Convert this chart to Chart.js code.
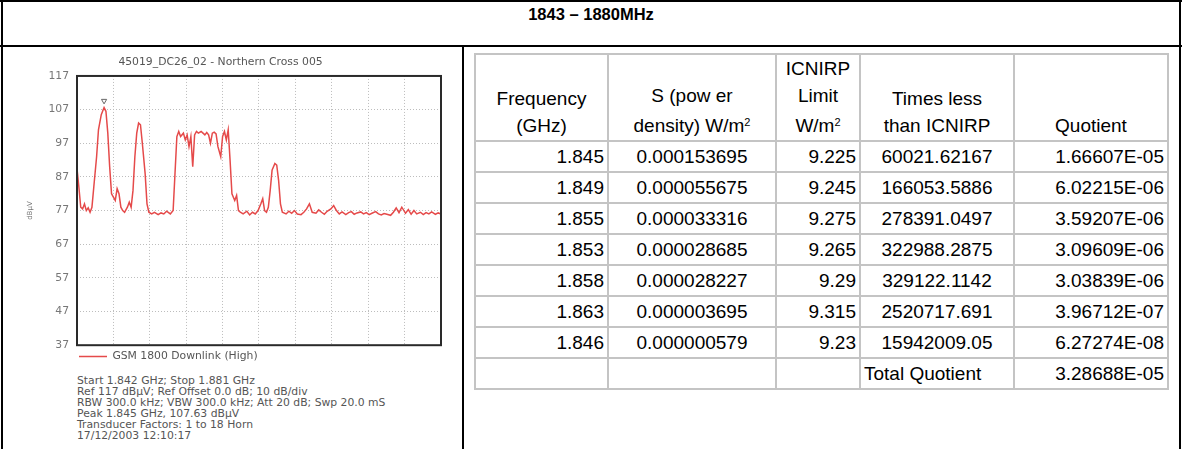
<!DOCTYPE html>
<html>
<head>
<meta charset="utf-8">
<script src="https://cdn.jsdelivr.net/npm/chart.js@4.4.1/dist/chart.umd.min.js"></script>
<style>
  body { margin: 0; width: 1182px; height: 449px; background: #fff; position: relative; overflow: hidden;
         font-family: "Liberation Sans", Arial, sans-serif; }
  .line { position: absolute; background: #000; z-index: 5; }
  .heading { position: absolute; left: 0; top: 5px; width: 1182px; text-align: center;
             font-weight: bold; font-size: 16.5px; }
  .plot { position: absolute; left: 0; top: 48px; width: 462px; height: 324px; }
  .info { position: absolute; left: 77px; top: 375px; font-family: "DejaVu Sans", sans-serif;
          font-size: 10.8px; line-height: 11px; color: #555; white-space: pre; }
  table { position: absolute; left: 474px; top: 53px; border-collapse: collapse; table-layout: fixed;
          font-size: 19px; color: #000; }
  td { border: 2px solid #c4c4c4; padding: 0 3px; height: 29px; white-space: nowrap; }
  thead td { height: 81px; vertical-align: bottom; text-align: center; line-height: 27px; padding-bottom: 1px; }
  .r { text-align: right; }
  .c { text-align: center; }
  .l { text-align: left; }
  sup { font-size: 11px; vertical-align: 6px; }
</style>
</head>
<body>
<div class="line" style="left:0;top:0;width:1182px;height:2px"></div>
<div class="line" style="left:0;top:45px;width:1182px;height:2px"></div>
<div class="line" style="left:1px;top:0;width:2px;height:449px"></div>
<div class="line" style="left:1179px;top:0;width:2px;height:449px"></div>
<div class="line" style="left:462px;top:45px;width:2px;height:404px"></div>

<div class="heading">1843 – 1880MHz</div>

<div class="plot"><canvas id="spectrum"></canvas></div>

<div class="info">Start 1.842 GHz; Stop 1.881 GHz
Ref 117 dBµV; Ref Offset 0.0 dB; 10 dB/div
RBW 300.0 kHz; VBW 300.0 kHz; Att 20 dB; Swp 20.0 mS
Peak 1.845 GHz, 107.63 dBµV
Transducer Factors: 1 to 18 Horn
17/12/2003 12:10:17</div>

<table id="results">
  <colgroup>
    <col style="width:133px"><col style="width:168px"><col style="width:84px"><col style="width:154px"><col style="width:154px">
  </colgroup>
  <thead>
    <tr>
      <td>Frequency<br>(GHz)</td>
      <td>S (pow er<br>density) W/m<sup>2</sup></td>
      <td>ICNIRP<br>Limit<br>W/m<sup>2</sup></td>
      <td>Times less<br>than ICNIRP</td>
      <td>Quotient</td>
    </tr>
  </thead>
  <tbody></tbody>
</table>

<script>
// spectrum trace (GHz / dBµV)
const freqs = [
  1.8420, 1.8422, 1.8424, 1.8426, 1.8428, 1.8430, 1.8432, 1.8434, 1.8436, 1.8438,
  1.8441, 1.8443, 1.8446, 1.8449, 1.8451, 1.8453, 1.8455, 1.8457, 1.8459, 1.8461,
  1.8463, 1.8465, 1.8467, 1.8469, 1.8471, 1.8474, 1.8476, 1.8478, 1.8480, 1.8482,
  1.8484, 1.8486, 1.8488, 1.8490, 1.8493, 1.8495, 1.8497, 1.8500, 1.8503, 1.8507,
  1.8510, 1.8513, 1.8516, 1.8520, 1.8523, 1.8525, 1.8527, 1.8529, 1.8531, 1.8534,
  1.8536, 1.8538, 1.8540, 1.8542, 1.8544, 1.8546, 1.8548, 1.8550, 1.8553, 1.8555,
  1.8557, 1.8559, 1.8561, 1.8563, 1.8565, 1.8567, 1.8569, 1.8571, 1.8574, 1.8576,
  1.8578, 1.8580, 1.8582, 1.8584, 1.8586, 1.8589, 1.8591, 1.8593, 1.8595, 1.8598,
  1.8602, 1.8605, 1.8608, 1.8611, 1.8614, 1.8617, 1.8619, 1.8621, 1.8623, 1.8625,
  1.8627, 1.8629, 1.8632, 1.8634, 1.8636, 1.8638, 1.8640, 1.8644, 1.8647, 1.8650,
  1.8653, 1.8656, 1.8660, 1.8663, 1.8666, 1.8669, 1.8672, 1.8676, 1.8679, 1.8682,
  1.8685, 1.8688, 1.8692, 1.8695, 1.8698, 1.8701, 1.8704, 1.8708, 1.8711, 1.8714,
  1.8717, 1.8720, 1.8724, 1.8727, 1.8730, 1.8733, 1.8736, 1.8740, 1.8743, 1.8746,
  1.8749, 1.8752, 1.8756, 1.8759, 1.8762, 1.8765, 1.8768, 1.8772, 1.8775, 1.8778,
  1.8781, 1.8784, 1.8788, 1.8791, 1.8794, 1.8797, 1.8800, 1.8804, 1.8807, 1.8810
];
const levels = [
  89.5, 84, 78, 77.5, 79, 77, 77.8, 76.5, 78, 84,
  93, 101, 105.5, 107.6, 106.5, 100, 90, 82, 81, 80,
  83.5, 82, 78, 77, 76.5, 78, 79.5, 78, 83, 93,
  100, 103, 102.5, 97, 88, 79, 76.5, 76, 76.5, 75.8,
  76.3, 76, 76.8, 76, 77, 88, 99, 100.5, 99, 100,
  98, 99.5, 96, 99, 90, 99.5, 100.5, 100, 100.5, 100,
  99.5, 100.2, 99.5, 97, 100, 100.3, 99.8, 96, 93, 99,
  100.5, 98, 101, 92, 82, 80, 81.5, 77, 76.5, 76,
  76.8, 75.7, 76.5, 76, 77, 79, 80.5, 77, 76.5, 78,
  83, 89, 91, 90.5, 86, 79, 76.5, 76, 76.8, 76.2,
  77, 76, 75.8, 76.5, 77.5, 79, 76.5, 76.2, 77.2, 76.5,
  75.9, 76.8, 77.5, 78.5, 77, 76, 76.6, 75.8, 76.4, 76.7,
  75.9, 76.3, 76.6, 76, 76.4, 75.8, 76.2, 76.7, 76, 75.7,
  76.1, 75.9, 75.6, 76.5, 77.8, 76.4, 78, 76.2, 77.3, 75.9,
  77, 76, 76.5, 75.8, 76.4, 76, 76.6, 75.9, 76.3, 76
];
const peakFreq = 1.8449;
const peakMarkY = 109.6;
const yTicks = [117, 107, 97, 87, 77, 67, 57, 47, 37];

// exposure table
const tFreq = ['1.845', '1.849', '1.855', '1.853', '1.858', '1.863', '1.846'];
const tPower = ['0.000153695', '0.000055675', '0.000033316', '0.000028685', '0.000028227', '0.000003695', '0.000000579'];
const tLimit = ['9.225', '9.245', '9.275', '9.265', '9.29', '9.315', '9.23'];
const tTimes = ['60021.62167', '166053.5886', '278391.0497', '322988.2875', '329122.1142', '2520717.691', '15942009.05'];
const tQuot = ['1.66607E-05', '6.02215E-06', '3.59207E-06', '3.09609E-06', '3.03839E-06', '3.96712E-07', '6.27274E-08'];
const totalQuotient = '3.28688E-05';

let body = document.querySelector('#results tbody');
tFreq.forEach((f, i) => {
  let tr = document.createElement('tr');
  tr.innerHTML = `<td class="r">${f}</td><td class="c">${tPower[i]}</td><td class="r">${tLimit[i]}</td>` +
    `<td class="c">${tTimes[i]}</td><td class="r">${tQuot[i]}</td>`;
  body.appendChild(tr);
});
let last = document.createElement('tr');
last.innerHTML = `<td></td><td></td><td></td><td class="l">Total Quotient</td><td class="r">${totalQuotient}</td>`;
body.appendChild(last);

// frame round the plot area
const frame = {
  id: 'frame',
  afterDraw(chart) {
    let a = chart.chartArea;
    let c = chart.ctx;
    c.save();
    c.strokeStyle = '#2a2a2a';
    c.lineWidth = 2;
    c.strokeRect(a.left, a.top, a.right - a.left, a.bottom - a.top);
    c.restore();
  }
};

const fontSmall = { family: 'DejaVu Sans', size: 10.8 };

new Chart(document.getElementById('spectrum'), {
  type: 'line',
  data: {
    datasets: [
      {
        label: 'GSM 1800 Downlink (High)',
        data: freqs.map((f, i) => ({ x: f, y: levels[i] })),
        borderColor: '#e54a4a',
        borderWidth: 1.5,
        pointRadius: 0,
        tension: 0
      },
      {
        label: 'marker',
        data: [{ x: peakFreq, y: peakMarkY }],
        showLine: false,
        pointStyle: 'triangle',
        rotation: 180,
        pointRadius: 3,
        borderColor: '#666',
        borderWidth: 1,
        backgroundColor: 'rgba(0,0,0,0)'
      }
    ]
  },
  plugins: [frame],
  options: {
    animation: false,
    responsive: true,
    maintainAspectRatio: false,
    layout: { padding: { left: 0, right: 21, top: 0, bottom: 0 } },
    scales: {
      x: {
        type: 'linear',
        min: 1.842,
        max: 1.881,
        ticks: { display: false, stepSize: 0.0039 },
        grid: { color: '#bdbdbd', drawTicks: false },
        border: { display: false, dash: [1, 2] },
        afterFit(scale) { scale.height = 4; }
      },
      y: {
        min: 37,
        max: 117,
        afterBuildTicks(scale) { scale.ticks = yTicks.map(v => ({ value: v })); },
        ticks: { font: fontSmall, color: '#777', padding: 8 },
        grid: { color: '#bdbdbd', drawTicks: false },
        border: { display: false, dash: [1, 2] },
        title: { display: true, text: 'dBµV', font: { family: 'DejaVu Sans', size: 7 }, color: '#777', padding: { top: 26, bottom: 0 } },
        afterFit(scale) { scale.width = 77; }
      }
    },
    plugins: {
      title: {
        display: true,
        text: '45019_DC26_02 - Northern Cross 005',
        font: { family: 'DejaVu Sans', size: 10.8, weight: 'normal' },
        color: '#555',
        padding: { top: 8, bottom: 7 }
      },
      legend: {
        position: 'bottom',
        fullSize: false,
        align: 'start',
        labels: {
          usePointStyle: true,
          pointStyle: 'line',
          pointStyleWidth: 28,
          padding: 2,
          font: fontSmall,
          color: '#555',
          filter: (item) => item.text !== 'marker'
        }
      },
      tooltip: { enabled: false }
    }
  }
});
</script>
</body>
</html>
